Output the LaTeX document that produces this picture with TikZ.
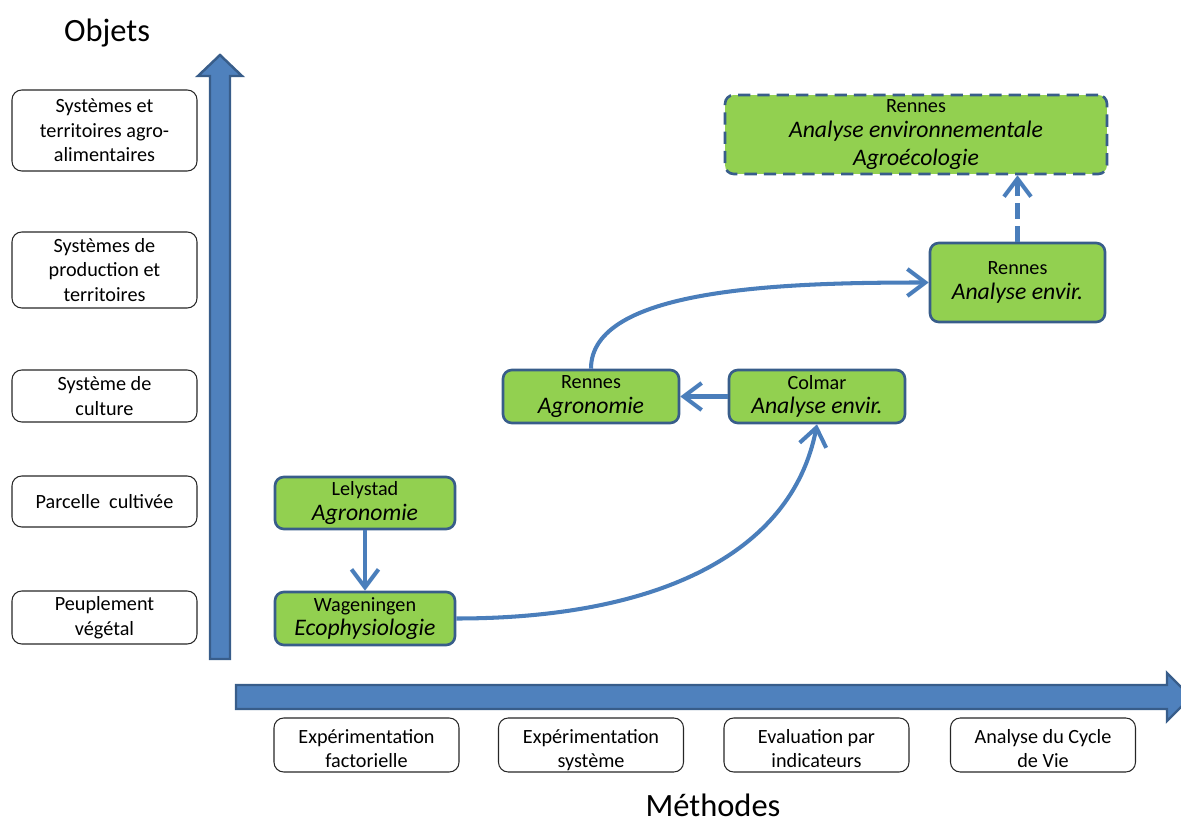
\documentclass[tikz,border=0pt]{standalone}
\usepackage{fontspec}
\setmainfont{Carlito}
\usetikzlibrary{arrows.meta,positioning,calc}
\definecolor{boxgreen}{RGB}{146,208,80}
\definecolor{boxline}{RGB}{56,93,138}
\definecolor{linkcol}{RGB}{74,126,187}
\definecolor{axisfill}{RGB}{79,129,189}

\begin{document}
\begin{tikzpicture}[x=0.02cm, y=-0.02cm,
    levelbox/.style={draw=black!85, line width=0.6pt, rounded corners=5.5pt, minimum width=3.7cm, align=center, inner sep=2pt, font=\fontsize{11.5}{14}\selectfont},
    sitebox/.style={draw=boxline, fill=boxgreen, line width=1.5pt, rounded corners=5pt, align=center, inner sep=2pt, font=\fontsize{11.5}{14}\selectfont},
    axis/.style={fill=axisfill, draw=boxline, line width=1.4pt, line join=miter},
    link/.style={-{Straight Barb[length=3.6mm, width=5.4mm]}, linkcol, line width=2.3pt},
    title/.style={font=\fontsize{18.5}{22}\selectfont},
]
\useasboundingbox (0,0) rectangle (1181,824);

% axes
\draw[axis] (210,659) -- (210,76) -- (198,76) -- (220,55) -- (242,76) -- (230,76) -- (230,659) -- cycle;
\draw[axis] (236,685) -- (1167,685) -- (1167,673) -- (1191,697) -- (1167,721) -- (1167,709) -- (236,709) -- cycle;
\node[title] (objets) at (107,33) {Objets};
\node[title] (methodes) at (713,805) {Méthodes};

% levels (objects)
\foreach \y/\h/\txt [count=\i] in {130.5/1.62cm/{Systèmes et\\territoires agro-\\alimentaires},
    270/1.52cm/{Systèmes de\\production et\\territoires},
    396/1.04cm/{Système de\\culture},
    501.5/1.02cm/{Parcelle~ cultivée},
    617.5/1.06cm/{Peuplement\\végétal}} {
    \node[levelbox, minimum height=\h] (obj\i) at (104.5,\y) {\txt};
}
% methods
\foreach \x/\txt [count=\j] in {366.5/{Expérimentation\\factorielle},
    591/{Expérimentation\\système},
    816.5/{Evaluation par\\indicateurs},
    1043/{Analyse du Cycle\\de Vie}} {
    \node[levelbox, minimum height=1.08cm, text height=26pt, text depth=0pt] (meth\j) at (\x,745) {\txt};
}

% sites
\node[sitebox, minimum width=3.6cm, minimum height=1.04cm] (lely) at (365,503) {Lelystad\\\fontsize{13.5}{16}\selectfont\itshape Agronomie};
\node[sitebox, minimum width=3.6cm, minimum height=1.06cm] (wag) at (365,618.5) {Wageningen\\\fontsize{13.5}{16}\selectfont\itshape Ecophysiologie};
\node[sitebox, minimum width=3.52cm, minimum height=1.06cm] (renA) at (591,396.5) {Rennes\\\fontsize{13.5}{16}\selectfont\itshape Agronomie};
\node[sitebox, minimum width=3.52cm, minimum height=1.06cm] (colmar) at (817,396.5) {Colmar\\\fontsize{13.5}{16}\selectfont\itshape Analyse envir.};
\node[sitebox, minimum width=3.5cm, minimum height=1.58cm] (renE) at (1017.5,282.5) {Rennes\\\fontsize{13.5}{16}\selectfont\itshape Analyse envir.};
\node[sitebox, dash pattern=on 7pt off 4pt, minimum width=7.64cm, minimum height=1.58cm] (renT) at (916,134.5) {Rennes\\\fontsize{13.5}{16}\selectfont\itshape Analyse environnementale\\[2pt]\fontsize{13.5}{16}\selectfont\itshape Agroécologie};

% links
\draw[link] (lely) -- (wag);
\draw[link] (colmar) -- (renA);
\draw[link] (wag.east) .. controls +(200,0) and +(-25,130) .. (colmar.south);
\draw[link] (renA.north) .. controls +(0,-80) and +(-150,0) .. (renE.west);
\draw[link, dash pattern=on 9pt off 4pt] (renE.north) -- (renE.north |- renT.south);
\end{tikzpicture}
\end{document}
